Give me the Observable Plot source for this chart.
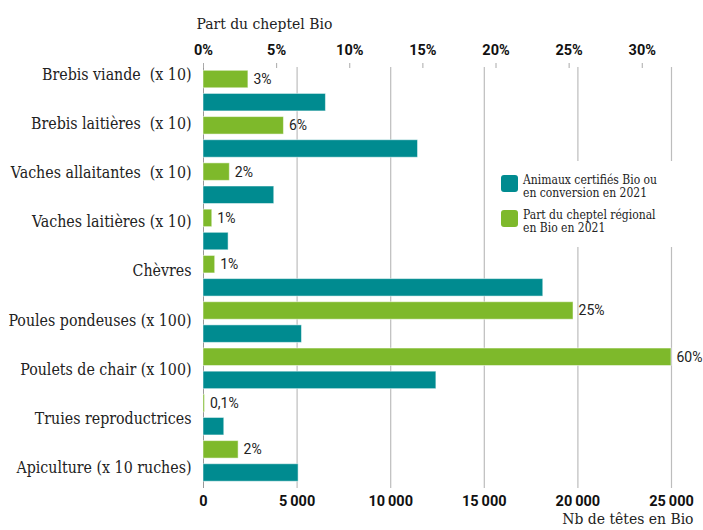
<!DOCTYPE html>
<html><head><meta charset="utf-8">
<script src="https://cdn.jsdelivr.net/npm/d3@7"></script>
<script src="https://cdn.jsdelivr.net/npm/@observablehq/plot@0.6"></script>
<style>
body{margin:0;background:#fff}
#wrap{position:relative;width:703px;height:530px}
#wrap svg{position:absolute;left:0;top:0}
.legend{position:absolute;left:490px;top:161px;width:192px;height:86px;background:#fff;
  font-family:"DejaVu Serif Condensed","DejaVu Serif",serif;font-size:12px;line-height:13px;color:#222}
.item{position:absolute;left:11px}
.sw{position:absolute;left:0;width:17px;height:17px;border-radius:3px}
.txt{position:absolute;left:22px;white-space:nowrap}
</style></head><body><div id="wrap"></div>
<script>
const categories = ["Brebis viande\u00a0 (x 10)", "Brebis laitières\u00a0 (x 10)", "Vaches allaitantes\u00a0 (x 10)",
  "Vaches laitières (x 10)", "Chèvres", "Poules pondeuses (x 100)", "Poulets de chair (x 100)",
  "Truies reproductrices", "Apiculture (x 10 ruches)"];
const animaux = [6540, 11460, 3780, 1340, 18150, 5260, 12440, 1110, 5080];
const partBio = [3.07, 5.5, 1.8, 0.6, 0.8, 25.3, 60, 0.1, 2.4];
const partLabels = ["3%", "6%", "2%", "1%", "1%", "25%", "60%", "0,1%", "2%"];
const countTicks = [0, 5000, 10000, 15000, 20000, 25000];
const pctTicks = [0, 5, 10, 15, 20, 25, 30];
const seriesNames = ["Animaux certifiés Bio ou\nen conversion en 2021", "Part du cheptel régional\nen Bio en 2021"];
const colors = ["#008b90", "#7eb92b"];

const xMax = 25000, pctMax = 32, K = xMax / pctMax;
const rows = categories.map((c, i) => ({cat: c, i, n: animaux[i], p: partBio[i], lab: partLabels[i]}));
const fmt = d => d3.format(",")(d).replace(/,/g, "\u2009");
const serif = "'DejaVu Serif Condensed','DejaVu Serif',serif";
const sans = "Roboto, 'Liberation Sans', sans-serif";
const half = 0.378;

const chart = Plot.plot({
  width: 703, height: 530,
  marginLeft: 203, marginRight: 32, marginTop: 67, marginBottom: 42,
  x: {domain: [0, xMax], axis: null},
  y: {domain: [-0.52, 17.67], reverse: true, axis: null},
  marks: [
    Plot.ruleX(countTicks.slice(1), {stroke: "#bdbdbd", strokeWidth: 1.2}),
    Plot.ruleX([0], {stroke: "#999", insetTop: -4}),
    Plot.rectX(rows, {x1: 0, x2: d => Math.min(d.p * K, xMax), y1: d => 2 * d.i - half, y2: d => 2 * d.i + half,
      fill: colors[1], stroke: "#fff", strokeOpacity: 0.5}),
    Plot.rectX(rows, {x1: 0, x2: "n", y1: d => 2 * d.i + 1 - half, y2: d => 2 * d.i + 1 + half,
      fill: colors[0], stroke: "#fff", strokeOpacity: 0.5}),
    Plot.text(rows, {x: d => Math.min(d.p * K, xMax), y: d => 2 * d.i, text: "lab", textAnchor: "start", dx: 5,
      fontFamily: sans, fontSize: 14, fill: "#222"}),
    Plot.text(rows, {x: 0, y: d => d.i * 17 / 8, text: "cat", textAnchor: "end", dx: -12, dy: -5,
      fontFamily: serif, fontSize: 15.8, fill: "#222"}),
    Plot.axisX(countTicks, {anchor: "bottom", tickSize: 0, tickPadding: 7, tickFormat: fmt, label: null,
      fontFamily: sans, fontWeight: "bold", fontSize: 14.5, fill: "#111"}),
    Plot.axisX(pctTicks.map(p => p * K), {anchor: "top", tickSize: 5, tickPadding: 8, label: null,
      tickFormat: d => Math.round(d / K) + "%", stroke: "#aaa", fill: "#111",
      fontFamily: sans, fontWeight: "bold", fontSize: 14.5}),
    Plot.text(["Part du cheptel Bio"], {text: d => d, frameAnchor: "top-left", textAnchor: "start", dx: -7, dy: -50,
      fontFamily: serif, fontSize: 15.5, fill: "#222"}),
    Plot.text(["Nb de têtes en Bio"], {text: d => d, frameAnchor: "bottom-right", textAnchor: "end", dx: 22, dy: 35,
      fontFamily: serif, fontSize: 15.5, fill: "#222"})
  ]
});
const wrap = document.getElementById("wrap");
wrap.appendChild(chart);

const legend = document.createElement("div");
legend.className = "legend";
const tops = [14, 49];
[0, 1].forEach(k => {
  const it = document.createElement("div");
  it.className = "item";
  it.style.top = tops[k] + "px";
  const sw = document.createElement("div");
  sw.className = "sw"; sw.style.background = colors[k];
  const tx = document.createElement("div");
  tx.className = "txt"; tx.style.top = "-1px";
  seriesNames[k].split("\n").forEach((line, j) => {
    const l = document.createElement("div"); l.textContent = line; tx.appendChild(l);
  });
  it.appendChild(sw); it.appendChild(tx);
  legend.appendChild(it);
});
wrap.appendChild(legend);
</script>
</body></html>
